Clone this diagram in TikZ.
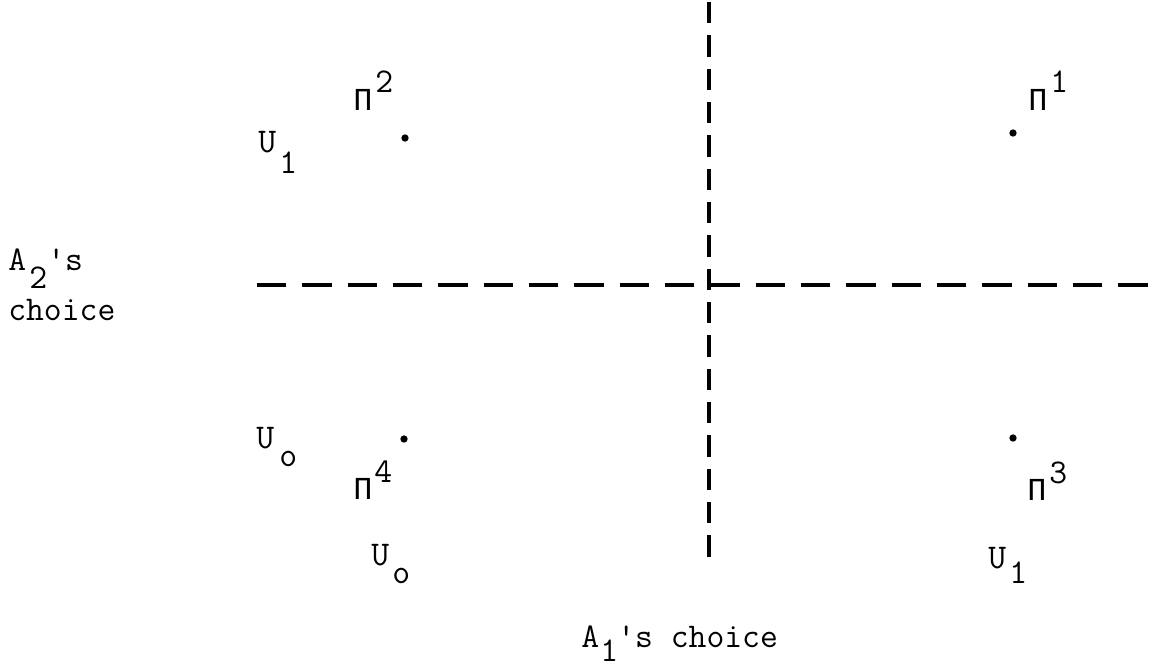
\documentclass[tikz,border=0pt]{standalone}
\usepackage{fontspec}
\newfontfamily\pifont{Liberation Mono}
\newcommand{\tpi}{{\pifont\fontsize{24}{28}\selectfont Π}}
\begin{document}
\begin{tikzpicture}[x=0.75pt,y=-0.75pt,
  lbl/.style={anchor=base west, inner sep=0pt, font=\ttfamily\fontsize{26}{30}\selectfont},
  dotmark/.style={circle, fill=black, inner sep=0pt, minimum size=5.5pt},
  axisv/.style={line width=3pt, dash pattern=on 16pt off 9pt},
  axish/.style={line width=3pt, dash pattern=on 22pt off 12pt}]
\useasboundingbox (0,0) rectangle (1160,667);
% axes
\coordinate (vtop) at (709,2);
\coordinate (vbot) at (709,560);
\coordinate (hleft) at (257,285);
\coordinate (hright) at (1160,285);
\draw[axisv] (vtop) -- (vbot);
\draw[axish] (hleft) -- (hright);
% points
\node[dotmark] (d2) at (405,138) {};
\node[dotmark] (d1) at (1013,133) {};
\node[dotmark] (d4) at (404,439) {};
\node[dotmark] (d3) at (1013,438) {};
% top-left
\node[lbl] (pi2) at (353,110) {\tpi};
\node[lbl] (pi2s) at (375,93) {2};
\node[lbl] (u1a) at (258,152) {U};
\node[lbl] (u1as) at (279,173) {1};
% top-right
\node[lbl] (pi1) at (1028,110) {\tpi};
\node[lbl] (pi1s) at (1050,93) {1};
% bottom-left
\node[lbl] (u0a) at (256,448) {U};
\node[lbl] (u0as) at (279,466) {o};
\node[lbl] (pi4) at (353,499) {\tpi};
\node[lbl] (pi4s) at (374,482) {4};
\node[lbl] (u0b) at (371,565) {U};
\node[lbl] (u0bs) at (392,583) {o};
% bottom-right
\node[lbl] (pi3) at (1027,500) {\tpi};
\node[lbl] (pi3s) at (1049,483) {3};
\node[lbl] (u1b) at (988,568) {U};
\node[lbl] (u1bs) at (1009,583) {1};
% axis titles
\node[lbl] (a2) at (8,270) {A};
\node[lbl] (a2s) at (29,288) {2};
\node[lbl] (a2r) at (47,270) {'s};
\node[lbl] (a2c) at (8,320) {choice};
\node[lbl] (a1) at (581,647) {A};
\node[lbl] (a1s) at (600,661) {1};
\node[lbl] (a1r) at (617,647) {'s choice};
\end{tikzpicture}
\end{document}
